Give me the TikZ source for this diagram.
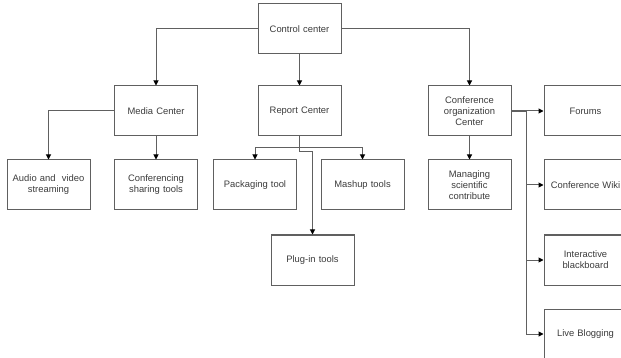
\documentclass[tikz,border=0pt]{standalone}
\usepackage{fontspec}
\setmainfont{Liberation Sans}
\usetikzlibrary{arrows.meta}
\definecolor{linegray}{HTML}{606060}
\definecolor{textgray}{HTML}{3C3C3C}
\begin{document}
\begin{tikzpicture}[x=1pt,y=-1pt,
  box/.style={draw=linegray, line width=1pt, minimum width=83pt, minimum height=50pt,
    inner sep=1pt, align=center, text=textgray, font=\fontsize{9.4}{11}\selectfont, text width=80pt},
  conn/.style={draw=linegray, line width=1pt},
  arr/.style={conn, -{Triangle[length=5pt,width=5pt,fill=black,color=black]}}]
\useasboundingbox (0,0) rectangle (621,358);
\fill[white] (0,0) rectangle (621,358);
\clip (0,0) rectangle (621,358);

\node[box] (cc) at (299.5,29) {Control center};
\node[box] (media) at (156,111) {Media Center};
\node[box] (report) at (299.5,111) {Report Center};
\node[box] (conf) at (469.5,111) {Conference\\organization\\Center};
\node[box] (forums) at (585.5,111) {Forums};
\node[box] (audio) at (48.5,185) {Audio and~~video\\streaming};
\node[box] (share) at (156,185) {Conferencing\\sharing tools};
\node[box] (pack) at (255,185) {Packaging tool};
\node[box] (mash) at (362.5,185) {Mashup tools};
\node[box] (manag) at (469.5,185) {Managing\\scientific\\contribute};
\node[box] (wiki) at (585.5,185) {Conference Wiki};
\node[box] (plug) at (312.5,260) {Plug-in tools};
\node[box] (inter) at (585.5,260) {Interactive\\blackboard};
\node[box] (live) at (585.5,334) {Live Blogging};

\coordinate (rb) at (299.5,148);
\coordinate (rj) at (299.5,152);
\coordinate (tr) at (526,111);

\draw[arr] (cc.west) -| (media.north);
\draw[arr] (cc.south) -- (report.north);
\draw[arr] (cc.east) -| (conf.north);
\draw[arr] (media.west) -| (audio.north);
\draw[arr] (media.south) -- (share.north);
\draw[conn] (report.south) -- (rj);
\draw[arr] (rb) -| (pack.north);
\draw[arr] (rb) -| (mash.north);
\draw[arr] (rj) -| (plug.north);
\draw[arr] (conf.south) -- (manag.north);
\draw[conn, line width=1.5pt] (conf.east) -- (tr);
\draw[arr] (tr) -- (forums.west);
\draw[arr] (tr) |- (live.west);
\draw[arr] (tr |- wiki.west) -- (wiki.west);
\draw[arr] (tr |- inter.west) -- (inter.west);
\end{tikzpicture}
\end{document}
